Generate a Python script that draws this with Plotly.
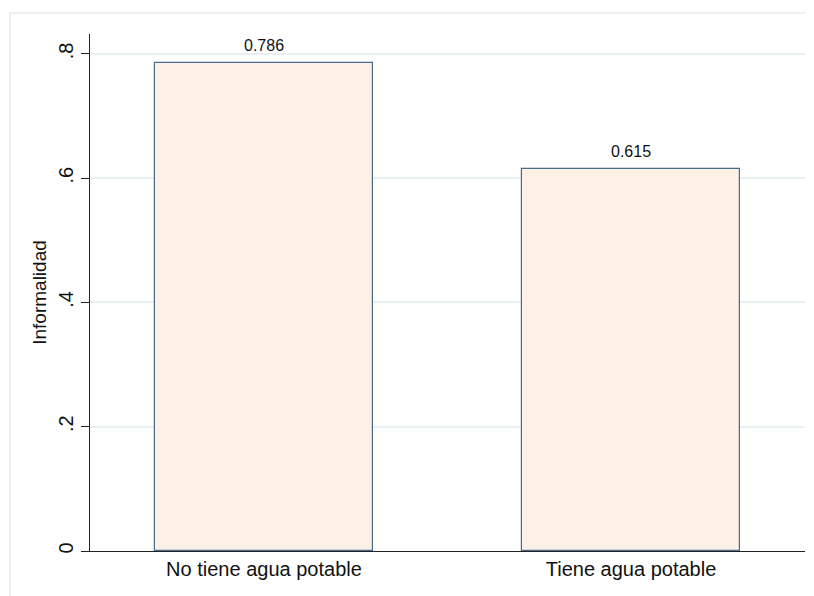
import plotly.graph_objects as go

categories = ["No tiene agua potable", "Tiene agua potable"]
values = [0.786, 0.615]
value_labels = ["0.786", "0.615"]
y_tick_vals = [0, 0.2, 0.4, 0.6, 0.8]
y_tick_text = ["0", ".2", ".4", ".6", ".8"]

# page body has an 8px margin: draw the figure 8px smaller and offset
OFF = 8
W, H = 814 - OFF, 596 - OFF
L, R, T, B = 90 - OFF, 9, 34 - OFF, 44.5
pw = W - L - R
ph = H - T - B

fig = go.Figure()
fig.add_trace(go.Bar(
    x=[0, 1], y=values, width=0.594,
    marker=dict(color="#fdf0e4", line=dict(color="#4c6a8c", width=1.2)),
    hoverinfo="skip",
))
for i, (v, t) in enumerate(zip(values, value_labels)):
    fig.add_annotation(x=i, y=v, text=t, showarrow=False, yanchor="bottom",
                       yshift=7, font=dict(size=16, color="#111111",
                                           family="Liberation Sans, Arial"))

# outer Stata-like frame
fx0 = (10 - 90) / pw
fy1 = (551.5 - 13) / ph
fig.add_shape(type="rect", xref="paper", yref="paper",
              x0=fx0, x1=1.2, y0=-0.3, y1=fy1,
              line=dict(color="#e6eef1", width=1.5), layer="below")

fig.update_layout(
    width=W, height=H,
    margin=dict(l=L, r=R, t=T, b=B),
    paper_bgcolor="white", plot_bgcolor="white",
    showlegend=False,
    font=dict(family="Liberation Sans, Arial", size=20, color="#111111"),
    bargap=0,
)
fig.update_xaxes(
    range=[-0.474, 1.474], tickmode="array", tickvals=[0, 1], ticktext=categories,
    showline=True, linecolor="#222222", linewidth=1.3, ticks="",
    showgrid=False, zeroline=False, tickfont=dict(size=20),
)
fig.update_yaxes(
    range=[0, 0.832], tickmode="array", tickvals=y_tick_vals, ticktext=y_tick_text,
    tickangle=-90, ticks="outside", ticklen=8, tickcolor="#222222", tickwidth=1.3,
    showline=True, linecolor="#222222", linewidth=1.3,
    showgrid=True, gridcolor="#e8eff2", gridwidth=1.5, zeroline=False,
    title=dict(text="Informalidad", font=dict(size=19), standoff=3),
    tickfont=dict(size=20),
)
fig.write_html("out.html")
